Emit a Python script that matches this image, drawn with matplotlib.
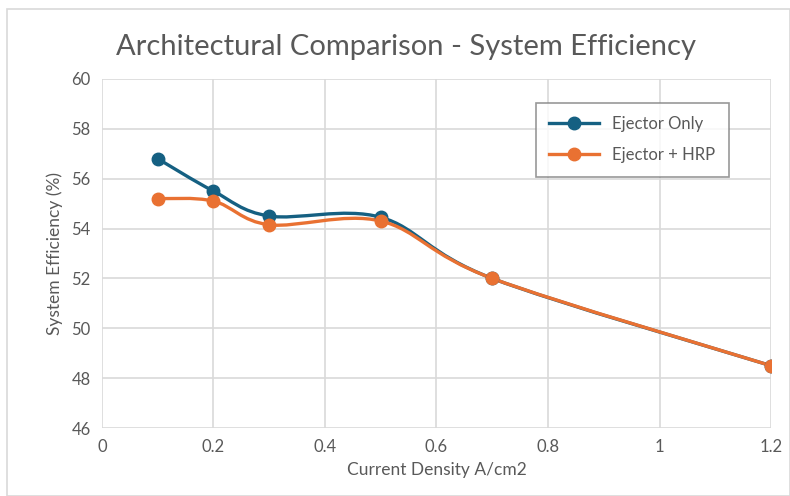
import numpy as np
import matplotlib.pyplot as plt
from matplotlib.path import Path
from matplotlib.patches import PathPatch, Rectangle
from matplotlib.lines import Line2D

plt.rcParams['font.family'] = ['Lato', 'DejaVu Sans']

# data
current_density = [0.1, 0.2, 0.3, 0.5, 0.7, 1.2]
ejector_only = [56.8, 55.5, 54.5, 54.45, 52.0, 48.5]
ejector_hrp = [55.2, 55.1, 54.15, 54.3, 52.0, 48.5]
series_names = ['Ejector Only', 'Ejector + HRP']
series_colors = ['#156082', '#E97132']

text_grey = '#595959'


def smooth_path(x, y):
    # Catmull-Rom style bezier, like Excel's "smoothed line"
    pts = np.column_stack([x, y])
    verts = [pts[0]]
    codes = [Path.MOVETO]
    n = len(pts)
    for i in range(n - 1):
        p0 = pts[i - 1] if i > 0 else pts[i]
        p1 = pts[i]
        p2 = pts[i + 1]
        p3 = pts[i + 2] if i + 2 < n else pts[i + 1]
        c1 = p1 + (p2 - p0) / 6.0
        c2 = p2 - (p3 - p1) / 6.0
        verts += [c1, c2, p2]
        codes += [Path.CURVE4] * 3
    return Path(verts, codes)


fig = plt.figure(figsize=(7.9, 4.96), dpi=100)
fig.patches.append(Rectangle((0.009, 0.0), 0.991, 0.982, transform=fig.transFigure,
                             fill=False, edgecolor='#d9d9d9', linewidth=1.2))
ax = fig.add_axes([0.129, 0.137, 0.847, 0.704])

handles = []
for ys, name, col in zip([ejector_only, ejector_hrp], series_names, series_colors):
    ax.add_patch(PathPatch(smooth_path(current_density, ys), fill=False,
                           edgecolor=col, linewidth=2.4, zorder=3, capstyle='round'))
    ax.plot(current_density, ys, linestyle='none', marker='o', markersize=9,
            color=col, zorder=4)
    handles.append(Line2D([], [], color=col, linewidth=2.4, marker='o', markersize=9))

ax.set_xlim(0, 1.2)
ax.set_ylim(46, 60)
ax.set_xticks(np.arange(0, 1.21, 0.2))
ax.set_xticklabels(['0', '0.2', '0.4', '0.6', '0.8', '1', '1.2'])
ax.set_yticks(np.arange(46, 61, 2))
ax.grid(True, color='#d9d9d9', linewidth=1.2)
ax.set_axisbelow(True)
for s in ax.spines.values():
    s.set_visible(False)
ax.tick_params(length=0, labelsize=12, colors=text_grey, pad=8)

fig.text(0.514, 0.906, 'Architectural Comparison - System Efficiency', fontsize=21,
         color=text_grey, ha='center', va='center')
ax.set_xlabel('Current Density A/cm2', fontsize=12.5, color=text_grey, labelpad=5)
ax.set_ylabel('System Efficiency (%)', fontsize=12.5, color=text_grey, labelpad=6)

leg = ax.legend(handles, series_names, loc='upper left', bbox_to_anchor=(0.636, 0.955),
                fontsize=12, frameon=True, fancybox=False, handlelength=3.0,
                borderpad=0.8, labelspacing=0.9)
leg.get_frame().set_edgecolor('#7f7f7f')
leg.get_frame().set_linewidth(1.2)
for t in leg.get_texts():
    t.set_color(text_grey)

fig.savefig('out.png', dpi=100)
